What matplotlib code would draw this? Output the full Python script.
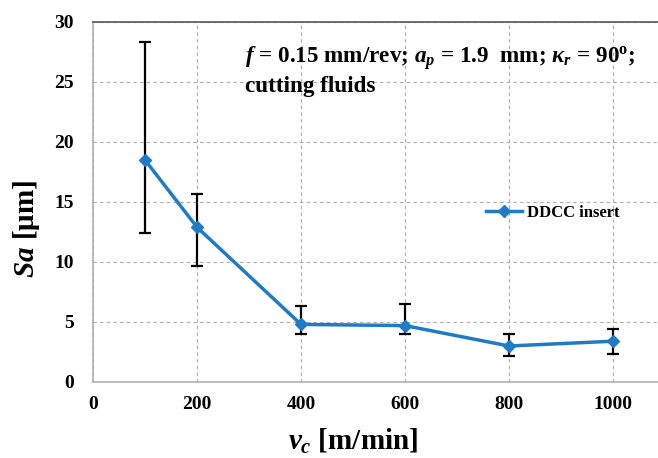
import matplotlib
matplotlib.use("Agg")
import matplotlib.pyplot as plt

vc = [100, 200, 400, 600, 800, 1000]
sa = [18.5, 12.9, 4.8, 4.7, 3.0, 3.4]
sa_upper = [28.3, 15.7, 6.3, 6.5, 4.0, 4.4]
sa_lower = [12.4, 9.7, 4.0, 4.0, 2.2, 2.3]
xticks = [0, 200, 400, 600, 800, 1000]
yticks = [0, 5, 10, 15, 20, 25, 30]

plt.rcParams['font.family'] = ['Liberation Serif', 'DejaVu Serif']
plt.rcParams['font.weight'] = 'bold'
plt.rcParams['mathtext.fontset'] = 'custom'
plt.rcParams['mathtext.rm'] = 'Liberation Serif:bold'
plt.rcParams['mathtext.it'] = 'Liberation Serif:italic:bold'
plt.rcParams['mathtext.bf'] = 'Liberation Serif:bold'

fig = plt.figure(figsize=(6.58, 4.58), dpi=100)
ax = fig.add_axes([93/658, 76/458, 572/658, 360/458])

yerr = [[s - l for s, l in zip(sa, sa_lower)], [u - s for s, u in zip(sa, sa_upper)]]
ax.errorbar(vc, sa, yerr=yerr, fmt='none', ecolor='black', elinewidth=1.6,
            capsize=4, capthick=1.6, zorder=2)
ax.plot(vc, sa, color='#1f7bc6', lw=2.5, marker='D', markersize=6.5,
        label='DDCC insert', zorder=3)

ax.set_xlim(0, 1100)
ax.set_ylim(0, 30)
ax.set_xticks(xticks)
ax.set_yticks(yticks)
ax.tick_params(axis='x', labelsize=14, length=0, pad=10)
ax.tick_params(axis='y', labelsize=14, length=0, pad=14)
for lab in ax.get_xticklabels() + ax.get_yticklabels():
    lab.set_fontweight('bold')
ax.grid(True, ls=(0, (3, 3)), color='#aaaaaa', lw=0.8)
ax.set_axisbelow(True)
for s in ['left', 'bottom']:
    ax.spines[s].set_color('#b0b0b0')
    ax.spines[s].set_linewidth(1.2)
ax.spines['top'].set_color('#555555')
ax.spines['top'].set_linewidth(1.2)
ax.spines['right'].set_visible(False)

ax.set_xlabel(r'$v_c$ [m/min]', fontsize=21, fontweight='bold')
ax.xaxis.set_label_coords(500/1100, -0.125)
ax.set_ylabel(r'$Sa$ [μm]', fontsize=21, fontweight='bold')
ax.yaxis.set_label_coords(-0.089, 0.425)

ax.text(0.265, 0.9, r'$f$ = 0.15 mm/rev; $a_p$ = 1.9  mm; $\kappa_r$ = 90$^{\mathbf{o}}$;',
        transform=ax.transAxes, fontsize=16.7, fontweight='bold', va='center', ha='left')
ax.text(0.265, 0.822, 'cutting fluids', transform=ax.transAxes, fontsize=16.7,
        fontweight='bold', va='center', ha='left')

leg = ax.legend(loc='center left', bbox_to_anchor=(0.66, 0.47), frameon=False,
                prop={'size': 12, 'weight': 'bold'}, handlelength=2.2, handletextpad=0.3)

fig.savefig('out.png', dpi=100)
